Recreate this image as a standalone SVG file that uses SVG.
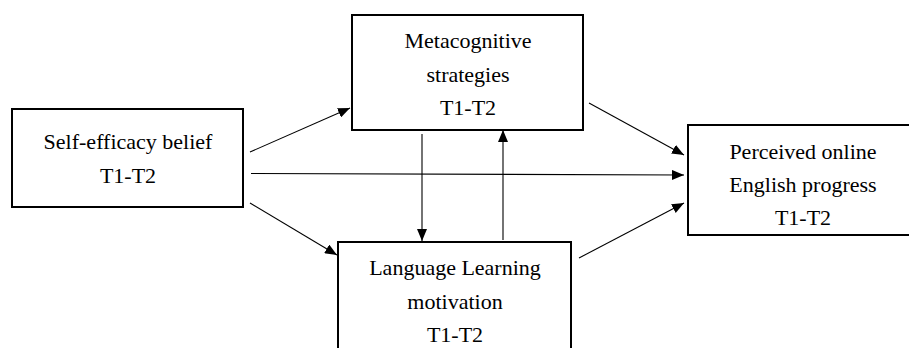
<svg xmlns="http://www.w3.org/2000/svg" width="909" height="348" viewBox="0 0 909 348">
<style>
.box{fill:#fff;stroke:#000;stroke-width:2}
.t{font-size:22px;fill:#000;text-anchor:middle}
.c{stroke:#000;stroke-width:1.1;fill:none;marker-end:url(#ah)}
</style>
<defs>
<marker id="ah" viewBox="0 0 12 10" refX="12" refY="5" markerWidth="12" markerHeight="10" markerUnits="userSpaceOnUse" orient="auto">
<path d="M0,0 L12,5 L0,10 Z" fill="#000"/>
</marker>
</defs>
<rect width="909" height="348" fill="#fff"/>
<g font-family="'Liberation Serif', 'DejaVu Serif', serif">
<g id="self">
<rect class="box" x="12" y="109" width="231" height="98"/>
<text class="t" x="128" y="149">Self-efficacy belief</text>
<text class="t" x="128" y="183">T1-T2</text>
</g>
<g id="meta">
<rect class="box" x="352" y="15" width="231" height="115"/>
<text class="t" x="468" y="48">Metacognitive</text>
<text class="t" x="468" y="82">strategies</text>
<text class="t" x="468" y="115">T1-T2</text>
</g>
<g id="lang">
<rect class="box" x="338" y="242" width="233" height="120"/>
<text class="t" x="455" y="275">Language Learning</text>
<text class="t" x="455" y="309">motivation</text>
<text class="t" x="455" y="342">T1-T2</text>
</g>
<g id="perc">
<rect class="box" x="688" y="125" width="230" height="110"/>
<text class="t" x="803" y="159">Perceived online</text>
<text class="t" x="803" y="192">English progress</text>
<text class="t" x="803" y="225">T1-T2</text>
</g>
</g>
<g id="connectors">
<line class="c" x1="250" y1="152" x2="350" y2="108"/>
<line class="c" x1="251" y1="173.5" x2="684" y2="175"/>
<line class="c" x1="250" y1="203" x2="337" y2="255"/>
<line class="c" x1="589" y1="103" x2="684" y2="155"/>
<line class="c" x1="579" y1="258" x2="684" y2="203"/>
<line class="c" x1="422" y1="134" x2="422" y2="241"/>
<line class="c" x1="503" y1="240" x2="503" y2="130"/>
</g>
</svg>
